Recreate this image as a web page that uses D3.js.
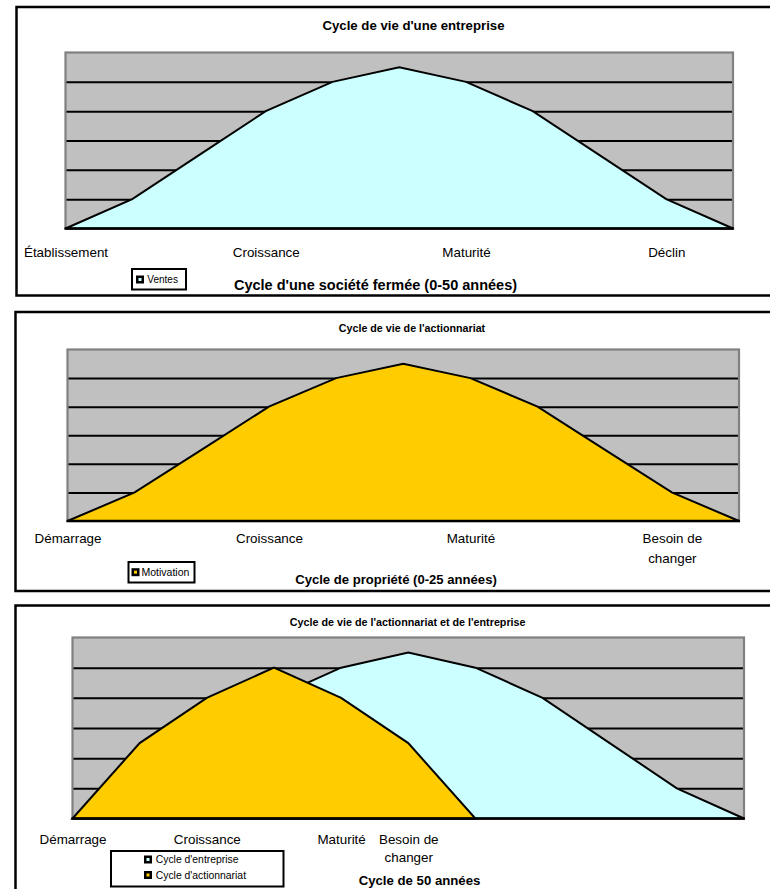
<!DOCTYPE html>
<html>
<head>
<meta charset="utf-8">
<script src="https://cdn.jsdelivr.net/npm/d3@7"></script>
<style>
  html, body { margin: 0; padding: 0; background: #fff; }
  svg { display: block; font-family: "Liberation Sans", Arial, Helvetica, sans-serif; }
</style>
</head>
<body>
<svg id="chart" width="770" height="889"></svg>
<script>
// ---------- DATA ----------
const categories1 = ["Établissement", "", "", "Croissance", "", "", "Maturité", "", "", "Déclin", ""];
const categories2 = ["Démarrage", "", "", "Croissance", "", "", "Maturité", "", "", "Besoin de\nchanger", ""];
const categories3 = ["Démarrage", "", "Croissance", "", "Maturité", "Besoin de\nchanger", "", "", "", "", ""];

const ventes = [0, 1, 2.5, 4, 5, 5.5, 5, 4, 2.5, 1, 0];
const motivation = [0, 1, 2.5, 4, 5, 5.5, 5, 4, 2.5, 1, 0];
const cycleEntreprise = [0, 1, 2.5, 4, 5, 5.5, 5, 4, 2.5, 1, 0];
const cycleActionnariat = [0, 2.5, 4, 5, 4, 2.5, 0, null, null, null, null];

const yDomain = [0, 6];
const gridValues = [1, 2, 3, 4, 5];

const titles = ["Cycle de vie d'une entreprise", "Cycle de vie de l'actionnariat", "Cycle de vie de l'actionnariat et de l'entreprise"];
const subtitles = ["Cycle d'une société fermée (0-50 années)", "Cycle de propriété (0-25 années)", "Cycle de 50 années"];
const legendNames1 = ["Ventes"];
const legendNames2 = ["Motivation"];
const legendNames3 = ["Cycle d'entreprise", "Cycle d'actionnariat"];

// ---------- STYLE ----------
const CYAN = "#ccffff";
const GOLD = "#ffcc00";
const PLOT_BG = "#c0c0c0";
const PLOT_EDGE = "#808080";

const svg = d3.select("#chart");

function drawPanel(cfg) {
  const g = svg.append("g");
  // outer border
  g.append("rect")
    .attr("x", cfg.border.x).attr("y", cfg.border.y)
    .attr("width", cfg.border.w).attr("height", cfg.border.h)
    .attr("fill", "#fff").attr("stroke", "#000").attr("stroke-width", 2.5);

  const p = cfg.plot;
  const x = d3.scalePoint().domain(d3.range(cfg.categories.length)).range([p.l, p.r]);
  const y = d3.scaleLinear().domain(yDomain).range([p.b, p.t]);

  // plot background
  g.append("rect").attr("x", p.l).attr("y", p.t).attr("width", p.r - p.l).attr("height", p.b - p.t)
    .attr("fill", PLOT_BG);

  // gridlines
  const grid = g.append("g").attr("transform", `translate(${p.l},0)`)
    .call(d3.axisLeft(y).tickValues(gridValues).tickSize(-(p.r - p.l)).tickFormat(""));
  grid.select(".domain").remove();
  grid.selectAll(".tick line").attr("stroke", "#000").attr("stroke-width", 2);

  // plot edge
  g.append("rect").attr("x", p.l).attr("y", p.t).attr("width", p.r - p.l).attr("height", p.b - p.t)
    .attr("fill", "none").attr("stroke", PLOT_EDGE).attr("stroke-width", 2.2);

  // areas
  cfg.series.forEach(s => {
    const pts = s.values.map((v, i) => ({ i, v }));
    const area = d3.area()
      .defined(d => d.v != null)
      .x(d => x(d.i)).y0(y(0)).y1(d => y(d.v));
    g.append("path").datum(pts).attr("d", area)
      .attr("fill", s.color).attr("stroke", "#000").attr("stroke-width", 2).attr("stroke-linejoin", "miter");
  });

  // category axis
  const ax = g.append("g").attr("transform", `translate(0,${p.b})`)
    .call(d3.axisBottom(x).tickSize(0).tickSizeOuter(0).tickFormat(i => cfg.categories[i]));
  ax.select(".domain").attr("stroke", "#000").attr("stroke-width", 2.5)
    .attr("d", `M${p.l - 1},0H${p.r + 1}`);
  ax.selectAll(".tick text").each(function (i) {
    const t = d3.select(this);
    const lines = cfg.categories[i].split("\n");
    t.text(null).attr("y", cfg.labelY - p.b).attr("dy", null)
      .attr("font-size", cfg.labelSize).attr("fill", "#000")
      .attr("font-family", "'Liberation Sans', Arial, sans-serif");
    lines.forEach((ln, k) => {
      t.append("tspan").attr("x", 0).attr("y", cfg.labelY - p.b + k * cfg.lineGap).text(ln);
    });
  });

  // title & subtitle
  g.append("text").attr("x", cfg.title.x).attr("y", cfg.title.y).attr("text-anchor", "middle")
    .attr("font-weight", "bold").attr("font-size", cfg.title.size).text(cfg.title.text);
  g.append("text").attr("x", cfg.subtitle.x).attr("y", cfg.subtitle.y).attr("text-anchor", "middle")
    .attr("font-weight", "bold").attr("font-size", cfg.subtitle.size).text(cfg.subtitle.text);

  // legend
  const L = cfg.legend;
  g.append("rect").attr("x", L.x).attr("y", L.y).attr("width", L.w).attr("height", L.h)
    .attr("fill", "#fff").attr("stroke", "#000").attr("stroke-width", 2);
  L.items.forEach(it => {
    g.append("rect").attr("x", L.mx).attr("y", it.cy - 4).attr("width", 8).attr("height", 8).attr("fill", "#000");
    g.append("rect").attr("x", L.mx + 2.5).attr("y", it.cy - 1.5).attr("width", 3).attr("height", 3).attr("fill", it.color);
    g.append("text").attr("x", L.tx).attr("y", it.cy + L.size * 0.36).attr("font-size", L.size).text(it.name);
  });
}

drawPanel({
  border: { x: 16.5, y: 7, w: 800, h: 288.5 },
  plot: { l: 65.5, r: 733, t: 52.5, b: 228.5 },
  categories: categories1,
  labelY: 256.5, labelSize: 13.4, lineGap: 19.5,
  series: [{ values: ventes, color: CYAN }],
  title: { x: 413.5, y: 29.5, size: 13.2, text: titles[0] },
  subtitle: { x: 375.5, y: 290, size: 14.5, text: subtitles[0] },
  legend: { x: 132, y: 269, w: 54, h: 20.5, mx: 136, tx: 147.3, size: 10,
    items: [{ name: legendNames1[0], color: CYAN, cy: 279.5 }] }
});

drawPanel({
  border: { x: 15.5, y: 312, w: 800, h: 279 },
  plot: { l: 67.5, r: 739, t: 349.5, b: 521 },
  categories: categories2,
  labelY: 543, labelSize: 13.4, lineGap: 19.5,
  series: [{ values: motivation, color: GOLD }],
  title: { x: 412, y: 332, size: 10.7, text: titles[1] },
  subtitle: { x: 396, y: 584, size: 13.1, text: subtitles[1] },
  legend: { x: 128.5, y: 562, w: 66, h: 20.5, mx: 131.5, tx: 141.5, size: 10.5,
    items: [{ name: legendNames2[0], color: GOLD, cy: 572.2 }] }
});

drawPanel({
  border: { x: 15.5, y: 605.5, w: 800, h: 300 },
  plot: { l: 72.5, r: 744, t: 637.5, b: 818.5 },
  categories: categories3,
  labelY: 843.7, labelSize: 13.4, lineGap: 17.8,
  series: [{ values: cycleEntreprise, color: CYAN }, { values: cycleActionnariat, color: GOLD }],
  title: { x: 407.7, y: 625.5, size: 10.75, text: titles[2] },
  subtitle: { x: 419.5, y: 885, size: 13.2, text: subtitles[2] },
  legend: { x: 111, y: 851, w: 172.5, h: 35.5, mx: 144, tx: 155.7, size: 10.4,
    items: [
      { name: legendNames3[0], color: CYAN, cy: 859.5 },
      { name: legendNames3[1], color: GOLD, cy: 875 }
    ] }
});
</script>
</body>
</html>
